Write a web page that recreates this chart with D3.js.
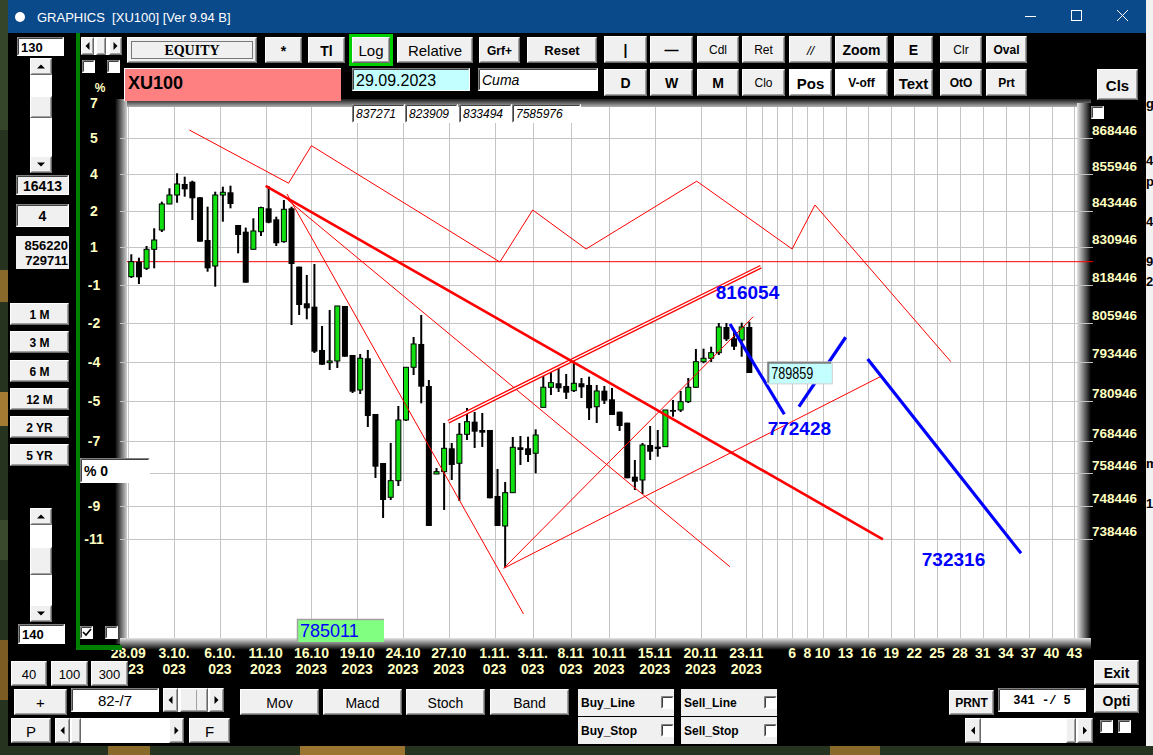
<!DOCTYPE html>
<html>
<head>
<meta charset="utf-8">
<script src="https://cdn.jsdelivr.net/npm/d3@7"></script>
<style>
body { margin: 0; background: #000; overflow: hidden; }
svg { display: block; font-family: "Liberation Sans", Arial, sans-serif; }
</style>
</head>
<body>
<svg id="chart" width="1153" height="755"></svg>
<script>
// ---- data ----
var opens = [821180,826180,823970,830330,836830,845680,848760,852550,853340,847980,
  833460,824740,848760,849690,838530,836260,830330,836260,844210,840460,
  832890,844210,824520,812400,811280,797200,793120,793660,811510,795590,
  784410,794530,776830,761590,751100,756160,774950,791640,799140,785680,
  758210,758920,766130,761500,770480,774420,771820,771820,751500,742440,
  752500,766440,766130,764590,778920,785270,786540,785680,784190,786540,
  786000,779110,784190,781460,777560,774110,757390,756370,767150,766630,
  766630,778090,778090,780710,785270,793440,794530,796330,804650,800980,
  800430,804650];
var highs = [828650,827510,831440,837410,846470,851070,856240,855070,853680,848080,
  844760,849900,851620,851960,838530,837650,840800,844760,851860,841350,
  847050,844760,824520,821750,825410,804970,810200,811510,811510,795590,
  795910,797200,776830,761590,767780,779350,791640,801400,808560,787590,
  760050,774010,767780,774010,778720,777460,777150,771820,759750,755760,
  769640,769950,769730,772040,789820,790140,791830,789500,793980,788220,
  788640,786000,785680,785050,777560,774110,762520,767780,773070,771820,
  778090,781240,784090,788220,797520,797620,798260,805950,805950,803670,
  806050,806380];
var lows = [820750,818760,823410,823970,836160,845680,846120,848180,840220,832890,
  822840,817870,839650,844210,828990,819190,830330,834810,839110,831440,
  832550,805300,808560,807160,796230,792380,790780,791420,795040,783460,
  783140,772760,756990,744840,750280,754540,774640,789180,780200,742440,
  758210,747260,756370,749980,768710,766230,766540,750800,742440,730080,
  752500,760980,761900,758420,778920,782820,783770,781560,783770,781870,
  774950,774010,779980,776520,771510,756900,753320,752110,762520,763530,
  766630,775990,777460,780300,785050,792920,793340,795590,800110,797200,
  795040,789820];
var closes = [826180,820980,830330,833460,845680,848760,852550,850710,847630,832890,
  823970,848760,849690,845680,835150,819190,836500,844420,839310,832350,
  843870,825410,811840,810750,796650,792470,793660,811510,795040,783870,
  794530,776210,760450,750280,756160,774950,791640,799140,785460,742440,
  758920,766130,760980,770480,774420,771290,770980,750800,742440,752500,
  766440,765610,764060,770260,785270,786730,784950,783550,786540,785270,
  778630,784090,781020,776520,773070,756900,755850,767150,765080,765920,
  778090,777560,780710,785270,793440,794530,796330,804650,800650,798260,
  804650,789820];

var yTicks = [880946,868446,855946,843446,830946,818446,805946,793446,780946,768446,758446,748446,738446];
var pctLabels = ["7","5","4","2","1","-1","-2","-4","-5","-7","","-9","-11"];

var dateIdx = [0,6,12,18,24,30,36,42,48,53,58,63,69,75,81];
var dateTop = ["28.09","3.10.","6.10.","11.10","16.10","19.10","24.10","27.10","1.11.","3.11.","8.11","10.11","15.11","20.11","23.11"];
var dateBottom = ["2023","023","023","2023","2023","2023","2023","2023","023","023","023","2023","2023","2023","2023"];
var futureIdx = [83,85,87,89,91,94,97,100,103,106,109,112,115,118,121,124];
var futureLabels = ["","","6","8","10","13","16","19","22","25","28","31","34","37","40","43"];

// drawn studies, as [candle index, price]
var zigzag = [[8,871370],[21,852820],[24,865850],[48.7,826070],[53,843630],[60,830430],[74.5,853510],[87,830430],[90,845340],[107.8,793450]];
var mainTrend = [[18,851860],[98.9,738446]];
var fanSteep = [[20.8,849100],[51.8,716470]];
var fanMid = [[20.9,847050],[78.85,730310]];
var channelTop = [[41.94,774420],[82.92,824510]];
var channelLow = [[49.2,729840],[98.74,788860]];
var riseLine = [[49.2,729840],[81.9,808000]];
var blueLines = [[[78.86,805620],[85.98,776740]],[[87.9,779130],[94.02,801310]],[[96.9,794290],[117.0,734280]]];
var targets = [{v: 816054, i: 77.0}, {v: 772428, i: 83.8}, {v: 732316, i: 104}];
var cursorValue = {v: 789859, i: 83.75};

var svg = d3.select("#chart");
var defs = svg.append("defs");
var axisYellow = "#ffffc0";

function grad(id, horizontal, c1, c2) {
  var g = defs.append("linearGradient").attr("id", id)
    .attr("x1", 0).attr("y1", 0).attr("x2", horizontal ? 1 : 0).attr("y2", horizontal ? 0 : 1);
  g.append("stop").attr("offset", "0%").attr("stop-color", c1);
  g.append("stop").attr("offset", "100%").attr("stop-color", c2);
}
grad("gLeft", true, "#000", "#d0d0d0");
grad("gTop", false, "#1a1a1a", "#c4c4c4");
grad("gRight", true, "#e6e6e6", "#000");
grad("gBottom", false, "#e6e6e6", "#000");

// ---- desktop + window ----
svg.append("rect").attr("width", 1153).attr("height", 755).attr("fill", "#26331f");
[[0,130,"#35452a"],[270,302,"#8a6a2a"],[392,426,"#a57a32"],[520,560,"#3a4a2c"],[640,700,"#7c5c22"]].forEach(function(d) {
  svg.append("rect").attr("x", 0).attr("y", d[0]).attr("width", 8).attr("height", d[1] - d[0]).attr("fill", d[2]);
});
[[108,150,"#8a6a2a"],[300,405,"#9a7430"],[830,880,"#8a6a2a"]].forEach(function(d) {
  svg.append("rect").attr("x", d[0]).attr("y", 746).attr("width", d[1] - d[0]).attr("height", 9).attr("fill", d[2]);
});
svg.append("rect").attr("x", 1146).attr("y", 0).attr("width", 7).attr("height", 746).attr("fill", "#f2f2f2");
[["g",108],["49",165],["p:",186],["4",226],["9",266],["29",286],["m",468],["1",508]].forEach(function(d) {
  svg.append("text").attr("x", 1146).attr("y", d[1]).attr("font-size", 13).attr("font-weight", "bold").attr("fill", "#000").text(d[0]);
});
svg.append("rect").attr("x", 8).attr("y", 0).attr("width", 1138).attr("height", 746).attr("fill", "#000");
svg.append("rect").attr("x", 8).attr("y", 0).attr("width", 1138).attr("height", 33).attr("fill", "#0b4a8a");
svg.append("circle").attr("cx", 20).attr("cy", 17).attr("r", 5).attr("fill", "#fff");
svg.append("text").attr("x", 37).attr("y", 22).attr("font-size", 13).attr("fill", "#fff")
  .style("white-space", "pre").text("GRAPHICS  [XU100] [Ver 9.94 B]");
svg.append("path").attr("d", "M1025,16.5H1036").attr("stroke", "#fff");
svg.append("rect").attr("x", 1071.5).attr("y", 10.5).attr("width", 10).attr("height", 10).attr("fill", "none").attr("stroke", "#fff");
svg.append("path").attr("d", "M1117,10L1128,21M1128,10L1117,21").attr("stroke", "#fff");

// ---- UI helpers ----
var ui = svg.append("g");
function bevel(x, y, w, h, fill, sunken) {
  var g = ui.append("g");
  g.append("rect").attr("x", x).attr("y", y).attr("width", w).attr("height", h).attr("fill", fill);
  var tl = sunken ? "#808080" : "#ffffff", br = sunken ? "#ffffff" : "#696969";
  g.append("path").attr("d", "M" + (x + .5) + "," + (y + h - .5) + "V" + (y + .5) + "H" + (x + w - .5)).attr("fill", "none").attr("stroke", tl);
  g.append("path").attr("d", "M" + (x + .5) + "," + (y + h - .5) + "H" + (x + w - .5) + "V" + (y + .5)).attr("fill", "none").attr("stroke", br);
  if (!sunken) g.append("path").attr("d", "M" + (x + 1.5) + "," + (y + h - 1.5) + "H" + (x + w - 1.5) + "V" + (y + 1.5)).attr("fill", "none").attr("stroke", "#a0a0a0");
  else g.append("path").attr("d", "M" + (x + 1.5) + "," + (y + h - 1.5) + "V" + (y + 1.5) + "H" + (x + w - 1.5)).attr("fill", "none").attr("stroke", "#404040");
  return g;
}
function label(x, y, txt, o) {
  o = o || {};
  return ui.append("text").attr("x", x).attr("y", y)
    .attr("text-anchor", o.anchor || "middle").attr("dominant-baseline", "central")
    .attr("font-size", o.size || 14).attr("font-weight", o.weight || "bold")
    .attr("font-style", o.style || "normal").attr("font-family", o.family || null)
    .attr("fill", o.color || "#000").text(txt);
}
function btn(x, y, w, h, txt, o) {
  o = o || {};
  bevel(x, y, w, h, o.fill || "#f0f0f0", false);
  if (txt) label(x + w / 2, y + h / 2 + 0.5, txt, o);
}
function field(x, y, w, h, txt, o) {
  o = o || {};
  bevel(x, y, w, h, o.fill || "#fff", true);
  if (txt) {
    var ax = o.anchor === "start" ? x + 4 : (o.anchor === "end" ? x + w - 3 : x + w / 2);
    label(ax, y + h / 2 + 0.5, txt, o);
  }
}
function tri(cx, cy, dir) {
  var d = dir === "up" ? "M" + (cx - 4) + "," + (cy + 2) + "L" + (cx + 4) + "," + (cy + 2) + "L" + cx + "," + (cy - 2) + "Z"
    : dir === "down" ? "M" + (cx - 4) + "," + (cy - 2) + "L" + (cx + 4) + "," + (cy - 2) + "L" + cx + "," + (cy + 2) + "Z"
    : dir === "left" ? "M" + (cx + 2) + "," + (cy - 4) + "L" + (cx + 2) + "," + (cy + 4) + "L" + (cx - 2) + "," + cy + "Z"
    : "M" + (cx - 2) + "," + (cy - 4) + "L" + (cx - 2) + "," + (cy + 4) + "L" + (cx + 2) + "," + cy + "Z";
  ui.append("path").attr("d", d).attr("fill", "#000");
}
function vscroll(x, y, w, h, ty, th) {
  ui.append("rect").attr("x", x).attr("y", y).attr("width", w).attr("height", h).attr("fill", "#fff");
  btn(x, y, w, 17, ""); tri(x + w / 2, y + 8.5, "up");
  btn(x, y + h - 17, w, 17, ""); tri(x + w / 2, y + h - 8.5, "down");
  btn(x, ty, w, th, "");
}
function hscroll(x, y, w, h, tx, tw, aw) {
  ui.append("rect").attr("x", x).attr("y", y).attr("width", w).attr("height", h).attr("fill", "#fff");
  btn(x, y, aw, h, ""); tri(x + aw / 2, y + h / 2, "left");
  btn(x + w - aw, y, aw, h, ""); tri(x + w - aw / 2, y + h / 2, "right");
  btn(tx, y, tw, h, "");
}
function check(x, y, on) {
  bevel(x, y, 13, 13, "#fff", true);
  if (on) ui.append("path").attr("d", "M" + (x + 3) + "," + (y + 6) + "l3,3l5,-6").attr("fill", "none").attr("stroke", "#000").attr("stroke-width", 1.6);
}

// ---- chart frame ----
var frame = svg.append("g");
frame.append("rect").attr("x", 116).attr("y", 99).attr("width", 975).attr("height", 9).attr("fill", "url(#gTop)");
frame.append("rect").attr("x", 115).attr("y", 99).attr("width", 12).attr("height", 545).attr("fill", "url(#gLeft)");
frame.append("rect").attr("x", 1077).attr("y", 103).attr("width", 14).attr("height", 545).attr("fill", "url(#gRight)");
frame.append("rect").attr("x", 120).attr("y", 638).attr("width", 971).attr("height", 12).attr("fill", "url(#gBottom)");
frame.append("rect").attr("x", 127).attr("y", 107).attr("width", 950).attr("height", 531).attr("fill", "#fff");

// ---- scales ----
var x = d3.scaleLinear().domain([0, 124]).range([128.3, 1074.4]);
var y = d3.scaleLog().domain([738446, 868446]).range([539.3, 138.3]);

defs.append("clipPath").attr("id", "plotClip").append("rect")
  .attr("x", 127).attr("y", 107).attr("width", 950).attr("height", 531);

// grid
var grid = svg.append("g").attr("stroke", "#c4c4c4").attr("stroke-width", 1);
grid.selectAll("line.h").data(yTicks.slice(1)).enter().append("line")
  .attr("x1", 120).attr("x2", 1093)
  .attr("y1", function(d) { return Math.round(y(d)) + 0.5; })
  .attr("y2", function(d) { return Math.round(y(d)) + 0.5; });
grid.selectAll("line.v").data(dateIdx.concat(futureIdx)).enter().append("line")
  .attr("y1", 107).attr("y2", 638)
  .attr("x1", function(d) { return Math.round(x(d)) + 0.5; })
  .attr("x2", function(d) { return Math.round(x(d)) + 0.5; });

// base close line (first candle)
svg.append("line").attr("x1", 127).attr("x2", 1093)
  .attr("y1", y(closes[0])).attr("y2", y(closes[0]))
  .attr("stroke", "#ff0000").attr("stroke-width", 1);

var plot = svg.append("g").attr("clip-path", "url(#plotClip)");
var line = d3.line().x(function(d) { return x(d[0]); }).y(function(d) { return y(d[1]); });

// candles
var idx = d3.range(opens.length);
var candles = plot.append("g").selectAll("g").data(idx).enter().append("g");
candles.append("rect")
  .attr("x", function(i) { return x(i) + 2; })
  .attr("width", 2)
  .attr("y", function(i) { return y(highs[i]); })
  .attr("height", function(i) { return Math.max(1, y(lows[i]) - y(highs[i])); })
  .attr("fill", "#000");
candles.append("rect")
  .attr("x", function(i) { return closes[i] >= opens[i] ? x(i) + 0.5 : x(i); })
  .attr("width", function(i) { return closes[i] >= opens[i] ? 5 : 6; })
  .attr("y", function(i) { return y(Math.max(opens[i], closes[i])); })
  .attr("height", function(i) { return Math.max(1.5, Math.abs(y(opens[i]) - y(closes[i]))); })
  .attr("fill", function(i) { return closes[i] >= opens[i] ? "#10e010" : "#000"; })
  .attr("stroke", function(i) { return closes[i] >= opens[i] ? "#000" : "none"; })
  .attr("stroke-width", 1);

// studies
var studies = plot.append("g").attr("fill", "none");
studies.append("path").datum(zigzag).attr("d", line).attr("stroke", "#ff0000").attr("stroke-width", 1);
studies.append("path").datum(fanSteep).attr("d", line).attr("stroke", "#ff0000").attr("stroke-width", 1);
studies.append("path").datum(fanMid).attr("d", line).attr("stroke", "#ff0000").attr("stroke-width", 1);
studies.append("path").datum(channelLow).attr("d", line).attr("stroke", "#ff0000").attr("stroke-width", 1);
studies.append("path").datum(riseLine).attr("d", line).attr("stroke", "#ff0000").attr("stroke-width", 1);
studies.append("path").datum(channelTop).attr("d", line).attr("stroke", "#ff0000").attr("stroke-width", 4);
studies.append("path").datum(channelTop).attr("d", line).attr("stroke", "#fff").attr("stroke-width", 1.4);
studies.append("path").datum(mainTrend).attr("d", line).attr("stroke", "#ff0000").attr("stroke-width", 2.6);
blueLines.forEach(function(b) {
  studies.append("path").datum(b).attr("d", line).attr("stroke", "#0000ff").attr("stroke-width", 3.2);
});

plot.selectAll("text.target").data(targets).enter().append("text")
  .attr("x", function(d) { return x(d.i); })
  .attr("y", function(d) { return y(d.v); })
  .attr("dominant-baseline", "central")
  .attr("font-size", 19).attr("font-weight", "bold").attr("fill", "#0000ff")
  .text(function(d) { return d.v; });

var cx0 = x(cursorValue.i), cy0 = y(cursorValue.v);
plot.append("rect").attr("x", cx0).attr("y", cy0 - 11).attr("width", 65).attr("height", 22)
  .attr("fill", "#c4ffff").attr("stroke", "#d0d0d0");
plot.append("path").attr("d", "M" + (cx0 + 1) + "," + (cy0 + 10) + "V" + (cy0 - 10) + "H" + (cx0 + 64))
  .attr("fill", "none").attr("stroke", "#808080").attr("stroke-width", 2);
plot.append("text").attr("x", cx0 + 4).attr("y", cy0 + 1).attr("dominant-baseline", "central")
  .attr("font-size", 16).attr("textLength", 42).attr("lengthAdjust", "spacingAndGlyphs")
  .attr("fill", "#000").text(cursorValue.v);

// ---- axes labels ----
var axes = svg.append("g").attr("fill", axisYellow).attr("font-weight", "bold");
axes.selectAll("text.r").data(yTicks.slice(1)).enter().append("text")
  .attr("x", 1092).attr("y", function(d) { return y(d) - 3.3; })
  .attr("font-size", 13.5).text(function(d) { return d; });
axes.selectAll("text.l").data(yTicks).enter().append("text")
  .attr("x", 94).attr("y", function(d) { return y(d); })
  .attr("text-anchor", "middle").attr("dominant-baseline", "central")
  .attr("font-size", 14).text(function(d, i) { return pctLabels[i]; });
axes.append("text").attr("x", 100).attr("y", 88).attr("text-anchor", "middle").attr("dominant-baseline", "central")
  .attr("font-size", 12).text("%");
axes.selectAll("text.d1").data(dateIdx).enter().append("text")
  .attr("x", function(d) { return x(d); }).attr("y", 658)
  .attr("text-anchor", "middle").attr("font-size", 14)
  .text(function(d, i) { return dateTop[i]; });
axes.selectAll("text.d2").data(dateIdx).enter().append("text")
  .attr("x", function(d) { return x(d); }).attr("y", 674)
  .attr("text-anchor", "middle").attr("font-size", 14)
  .text(function(d, i) { return dateBottom[i]; });
axes.selectAll("text.f").data(futureIdx).enter().append("text")
  .attr("x", function(d) { return x(d); }).attr("y", 658)
  .attr("text-anchor", "middle").attr("font-size", 14)
  .text(function(d, i) { return futureLabels[i]; });

// controls sit above the chart and its labels
ui.raise();

// ---- left panel ----
ui.append("rect").attr("x", 76).attr("y", 33).attr("width", 4).attr("height", 617).attr("fill", "#008000");
ui.append("rect").attr("x", 76).attr("y", 645).attr("width", 46).attr("height", 5).attr("fill", "#008000");
field(17, 37, 47, 19, "130", {anchor: "start", size: 13});
vscroll(30, 58, 22, 115, 96, 22);
hscroll(81, 37, 41, 18, 96, 10, 13);
check(82, 60, false); check(107, 60, false);
field(16, 175, 53, 20, "16413", {fill: "#f0f0f0", size: 14});
field(16, 204, 53, 23, "4", {fill: "#f0f0f0", size: 14});
ui.append("rect").attr("x", 16).attr("y", 236).attr("width", 53).attr("height", 33).attr("fill", "#f0f0f0");
label(68, 245, "856220", {anchor: "end", size: 13});
label(68, 260, "729711", {anchor: "end", size: 13});
[["1 M",303],["3 M",331],["6 M",360],["12 M",388],["2 YR",416],["5 YR",444]].forEach(function(d) {
  btn(10, d[1], 59, 22, d[0], {size: 12});
});
field(80, 458, 70, 25, "% 0", {anchor: "start", size: 14});
vscroll(30, 508, 22, 114, 547, 28);
field(18, 624, 47, 20, "140", {anchor: "start", size: 13});
check(80, 626, true); check(105, 626, false);

// ---- top bar ----
btn(127, 37, 130, 26, "EQUITY", {family: "Liberation Serif", size: 14});
ui.append("rect").attr("x", 131.5).attr("y", 41.5).attr("width", 121).attr("height", 17)
  .attr("fill", "none").attr("stroke", "#000").attr("stroke-dasharray", "1,1");
btn(265, 37, 37, 26, "*");
btn(308, 37, 37, 26, "Tl");
ui.append("rect").attr("x", 350.5).attr("y", 35.5).attr("width", 41).attr("height", 29)
  .attr("fill", "none").attr("stroke", "#00d000").attr("stroke-width", 3);
btn(352, 37, 38, 26, "Log", {weight: "normal", size: 15});
btn(397, 37, 76, 26, "Relative", {weight: "normal", size: 15});
btn(479, 37, 41, 26, "Grf+", {size: 12});
btn(527, 37, 70, 26, "Reset", {size: 13});
ui.append("rect").attr("x", 124).attr("y", 68).attr("width", 217).attr("height", 33).attr("fill", "#ff8080");
ui.append("path").attr("d", "M124.5,101V68.5H341").attr("fill", "none").attr("stroke", "#fff");
label(128, 83, "XU100", {anchor: "start", size: 18});
field(352, 68, 118, 23, "29.09.2023", {fill: "#c4ffff", anchor: "start", weight: "normal", size: 16});
field(478, 68, 120, 23, "Cuma", {anchor: "start", weight: "normal", style: "italic", size: 14});
var infoVals = ["837271", "823909", "833494", "7585976"];
[[352,53],[405,53],[459,53],[512,69]].forEach(function(d, i) {
  field(d[0], 104, d[1], 19, infoVals[i], {anchor: "start", weight: "normal", style: "italic", size: 12});
});

var row1 = [["|",604,43,{}],["\u2014",650,43,{}],["Cdl",697,42,{weight:"normal",size:12}],["Ret",742,43,{weight:"normal",size:12}],
  ["//",789,43,{weight:"normal",style:"italic",size:13}],["Zoom",835,53,{size:14}],["E",894,39,{size:14}],
  ["Clr",940,42,{weight:"normal",size:12}],["Oval",986,41,{size:12}]];
row1.forEach(function(d) { btn(d[1], 36, d[2], 27, d[0], d[3]); });
var row2 = [["D",604,43,{}],["W",650,43,{}],["M",697,42,{}],["Clo",742,43,{weight:"normal",size:12}],
  ["Pos",789,43,{fill:"#fff",size:15}],["V-off",835,53,{fill:"#fff",size:12}],["Text",894,39,{size:15}],
  ["OtO",940,42,{size:12}],["Prt",986,41,{size:12}]];
row2.forEach(function(d) { btn(d[1], 69, d[2], 27, d[0], d[3]); });
btn(1097, 69, 41, 31, "Cls", {size: 15});
check(1091, 106, false);

// ---- cursor price box on the bottom edge ----
ui.append("rect").attr("x", 297).attr("y", 619).attr("width", 87).attr("height", 23).attr("fill", "#80ff80");
ui.append("path").attr("d", "M297.5,642V619.5H384").attr("fill", "none").attr("stroke", "#a0a0a0").attr("stroke-width", 1.5);
label(300, 631, "785011", {anchor: "start", weight: "normal", size: 18, color: "#0000ff"});

// ---- bottom bar ----
btn(11, 661, 36, 25, "40", {weight: "normal", size: 13});
btn(51, 661, 37, 25, "100", {weight: "normal", size: 13});
btn(91, 661, 37, 25, "300", {weight: "normal", size: 13});
btn(14, 689, 53, 26, "+", {weight: "normal", size: 15});
field(71, 688, 88, 24, "82-/7", {weight: "normal", size: 15});
hscroll(163, 688, 61, 24, 180, 28, 15);
ui.append("path").attr("d", "M196.5,690V710").attr("stroke", "#a0a0a0");
btn(11, 718, 40, 25, "P", {weight: "normal", size: 15});
hscroll(55, 718, 129, 25, 71, 10, 15);
btn(189, 718, 41, 25, "F", {weight: "normal", size: 15});
[["Mov",240],["Macd",323],["Stoch",406],["Band",490]].forEach(function(d) {
  btn(d[1], 689, 79, 26, d[0], {weight: "normal", size: 14});
});
[["Buy_Line",578,689],["Sell_Line",681,689],["Buy_Stop",578,717],["Sell_Stop",681,717]].forEach(function(d) {
  ui.append("rect").attr("x", d[1]).attr("y", d[2]).attr("width", 96).attr("height", 27).attr("fill", "#f0f0f0");
  label(d[1] + 3, d[2] + 13.5, d[0], {anchor: "start", size: 12});
  check(d[1] + 83, d[2] + 7, false);
});
btn(949, 690, 45, 25, "PRNT", {size: 12});
field(998, 688, 88, 24, "341 -/ 5", {family: "Liberation Mono", size: 12});
btn(1094, 660, 45, 25, "Exit", {size: 14});
btn(1094, 688, 45, 25, "Opti", {size: 14});
hscroll(965, 718, 128, 25, 1066, 10, 16);
check(1100, 720, false); check(1118, 720, false);
</script>
</body>
</html>
